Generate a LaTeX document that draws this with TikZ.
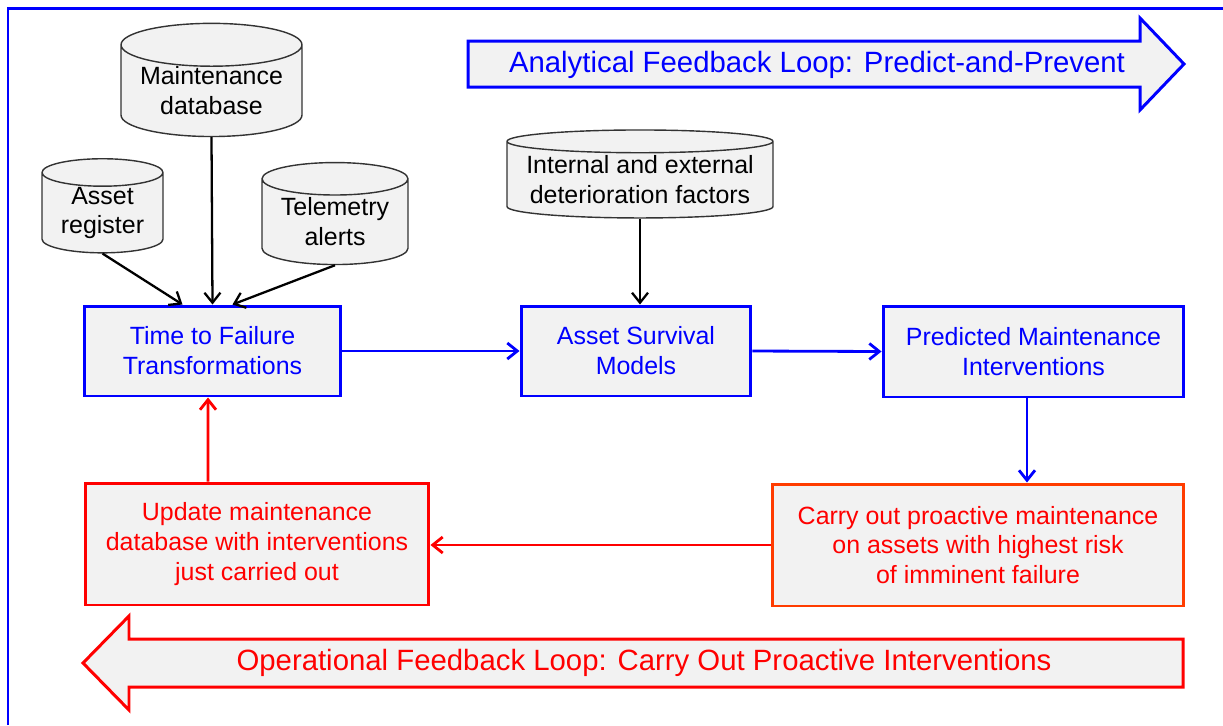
\documentclass[tikz,border=0pt]{standalone}
\usepackage{fontspec}
\setmainfont{Liberation Sans}
\usetikzlibrary{shapes.geometric,arrows.meta}

\definecolor{boxgray}{RGB}{242,242,242}
\definecolor{orred}{RGB}{255,60,0}

\begin{document}
\begin{tikzpicture}[x=0.02cm,y=-0.02cm]
	\tikzstyle{proc}=[shape=rectangle,draw=blue,line width=1.7pt,fill=boxgray,text=blue,align=center,font=\fontsize{14.2}{17}\selectfont]
	\tikzstyle{act}=[shape=rectangle,draw=red,line width=1.7pt,fill=boxgray,text=red,align=center,font=\fontsize{14.2}{17}\selectfont]
	\tikzstyle{store}=[shape=cylinder,shape border rotate=90,draw=black!80,line width=0.8pt,fill=boxgray,align=center,inner sep=0pt,font=\fontsize{14.2}{17}\selectfont]
	\tikzstyle{flow}=[line width=1.3pt,-{Straight Barb[length=0.2cm,width=0.32cm]}]
	\tikzstyle{loopflow}=[flow,line width=1.6pt]
	\tikzstyle{banner}=[line width=1.7pt,fill=boxgray]

	\useasboundingbox (0,0) rectangle (1223,725);
	\draw[blue,line width=1.7pt] (8,725) -- (8,8) -- (1223,8);

	%%% data sources
	\node (mdb) at (211.5,91) [store, minimum width=3.62cm, minimum height=1.86cm, aspect=0.3] {Maintenance\\database};
	\node (reg) at (102.5,213) [store, minimum width=2.42cm, minimum height=1.82cm, aspect=0.33] {Asset\\register};
	\node (tel) at (335,222) [store, minimum width=2.92cm, minimum height=2.04cm, aspect=0.3] {Telemetry\\alerts};
	\node (fac) at (640,180) [store, minimum width=5.32cm, minimum height=1.76cm, aspect=0.1] {Internal and external\\deterioration factors};

	%%% analytical chain
	\node (ttf) at (212.5,351) [proc, minimum width=5.14cm, minimum height=1.8cm] {Time to Failure\\Transformations};
	\node (asm) at (636,351) [proc, minimum width=4.6cm, minimum height=1.8cm] {Asset Survival\\Models};
	\node (pmi) at (1033.5,351.5) [proc, minimum width=6.02cm, minimum height=1.82cm] {Predicted Maintenance\\Interventions};

	%%% operational chain
	\node (carry) at (978,545) [act, draw=orred, minimum width=8.24cm, minimum height=2.44cm] {Carry out proactive maintenance\\on assets with highest risk\\of imminent failure};
	\node (upd) at (257,544) [act, minimum width=6.88cm, minimum height=2.44cm] {Update maintenance\\database with interventions\\just carried out};

	%%% inputs
	\draw[flow] (reg.south) -- ([xshift=-0.6cm]ttf.north);
	\draw[flow] (mdb.south) -- (ttf.north);
	\draw[flow] (tel.south) -- ([xshift=0.4cm]ttf.north);
	\draw[flow] (fac.south) -- (fac.south |- asm.north);

	%%% loops
	\draw[loopflow,blue] (ttf.east) -- (asm.west);
	\draw[loopflow,blue] (asm.east) -- (pmi.west);
	\draw[loopflow,blue] ([xshift=-0.13cm]pmi.south) -- ([xshift=-0.13cm]pmi.south |- carry.north);
	\draw[loopflow,red] (carry.west) -- (carry.west -| upd.east);
	\draw[loopflow,red] ([xshift=-0.98cm]upd.north) -- ([xshift=-0.09cm]ttf.south);

	%%% banners
	\filldraw[banner,draw=blue] (468,41) -- (1140,41) -- (1140,18) -- (1184,64) -- (1140,110) -- (1140,87) -- (468,87) -- cycle;
	\node (anl) at (817,65) [text=blue,font=\fontsize{16.7}{20}\selectfont] {Analytical Feedback Loop: Predict-and-Prevent};

	\filldraw[banner,draw=red] (1183,639) -- (129,639) -- (129,616) -- (83,663) -- (129,710) -- (129,687) -- (1183,687) -- cycle;
	\node (opl) at (644,663) [text=red,font=\fontsize{16.7}{20}\selectfont] {Operational Feedback Loop: Carry Out Proactive Interventions};
\end{tikzpicture}
\end{document}
